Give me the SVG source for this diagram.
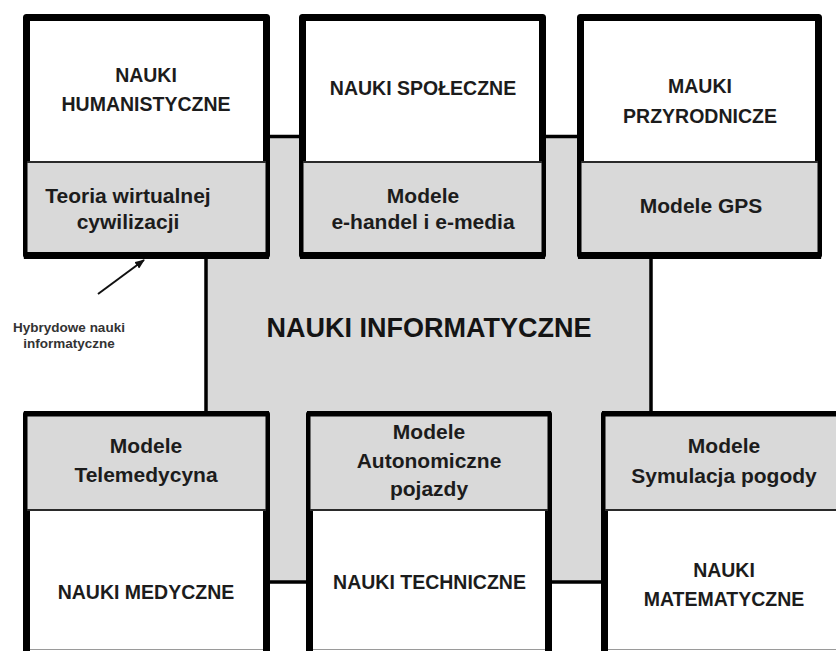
<svg xmlns="http://www.w3.org/2000/svg" width="836" height="651" viewBox="0 0 836 651">
  <defs>
    <style>
      .bg { fill: #ffffff; }
      .panel { fill: #d9d9d9; }
      .white { fill: #ffffff; }
      .frame { fill: none; stroke: #000; stroke-width: 7; stroke-linejoin: round; }
      .frame-thin { fill: none; stroke: #000; stroke-width: 4.5; stroke-linejoin: round; }
      .edge-thick { fill: none; stroke: #000; stroke-width: 7; }
      .edge-top { fill: none; stroke: #000; stroke-width: 5.5; }
      .divider { fill: none; stroke: #2a2a2a; stroke-width: 2; }
      .cut { fill: none; stroke: #9a9a9a; stroke-width: 1; }
      .core { fill: #d9d9d9; stroke: #000; stroke-width: 3.5; }
      text { font-family: "Liberation Sans", Arial, sans-serif; font-weight: bold; fill: #1c1c1c; text-anchor: middle; }
      .title { font-size: 19.5px; }
      .model { font-size: 21px; }
      .core-label { font-size: 27px; fill: #141414; }
      .note { font-size: 13.5px; fill: #333; }
      .pointer { stroke: #111; stroke-width: 2; fill: none; }
    </style>
    <marker id="arrowhead" viewBox="0 0 10 8" refX="9" refY="4" markerWidth="10" markerHeight="8" orient="auto" markerUnits="userSpaceOnUse">
      <path d="M0,0 L10,4 L0,8 z" fill="#111"/>
    </marker>
  </defs>

  <rect class="bg" x="0" y="0" width="836" height="651"/>

  <!-- central field -->
  <g id="nauki-informatyczne">
    <rect class="core" x="206" y="136.5" width="445" height="445.5"/>
    <text class="core-label" x="429" y="337">NAUKI INFORMATYCZNE</text>
  </g>

  <!-- top row -->
  <g id="nauki-humanistyczne">
    <rect class="white" x="23" y="14" width="247" height="148"/>
    <rect class="panel" x="23" y="162" width="247" height="97"/>
    <path class="frame" d="M26.5,162 V17.5 H266.5 V162"/>
    <path class="frame-thin" d="M25.25,162 V255.5 H267.75 V162"/>
    <path class="edge-thick" d="M24,255.5 H269"/>
    <path class="divider" d="M27,162 H266"/>
    <text class="title" x="146" y="82">NAUKI</text>
    <text class="title" x="146" y="111">HUMANISTYCZNE</text>
    <text class="model" x="128" y="203">Teoria wirtualnej</text>
    <text class="model" x="128" y="229">cywilizacji</text>
  </g>

  <g id="nauki-spoleczne">
    <rect class="white" x="299" y="14" width="247" height="148"/>
    <rect class="panel" x="299" y="162" width="247" height="97"/>
    <path class="frame" d="M302.5,162 V17.5 H542.5 V162"/>
    <path class="frame-thin" d="M301.25,162 V255.5 H543.75 V162"/>
    <path class="edge-thick" d="M300,255.5 H545"/>
    <path class="divider" d="M303,162 H542"/>
    <text class="title" x="423" y="95">NAUKI SPOŁECZNE</text>
    <text class="model" x="423" y="203">Modele</text>
    <text class="model" x="423" y="229">e-handel i e-media</text>
  </g>

  <g id="nauki-przyrodnicze">
    <rect class="white" x="577" y="14" width="245" height="148"/>
    <rect class="panel" x="577" y="162" width="245" height="97"/>
    <path class="frame" d="M580.5,162 V17.5 H818.5 V162"/>
    <path class="frame-thin" d="M579.25,162 V255.5 H819.75 V162"/>
    <path class="edge-thick" d="M578,255.5 H821"/>
    <path class="divider" d="M581,162 H818"/>
    <text class="title" x="700" y="93">MAUKI</text>
    <text class="title" x="700" y="123">PRZYRODNICZE</text>
    <text class="model" x="701" y="213">Modele GPS</text>
  </g>

  <!-- bottom row -->
  <g id="nauki-medyczne">
    <rect class="panel" x="23" y="411" width="247" height="99"/>
    <rect class="white" x="23" y="510" width="247" height="141"/>
    <path class="frame-thin" d="M25.25,510 V413.75 H267.75 V510"/>
    <path class="edge-top" d="M24,413.75 H269"/>
    <path class="edge-thick" d="M26.5,510 V651 M266.5,510 V651"/>
    <path class="cut" d="M30,649.5 H263"/>
    <path class="divider" d="M27,510 H266"/>
    <text class="model" x="146" y="453">Modele</text>
    <text class="model" x="146" y="482">Telemedycyna</text>
    <text class="title" x="146" y="599">NAUKI MEDYCZNE</text>
  </g>

  <g id="nauki-techniczne">
    <rect class="panel" x="306" y="411" width="246" height="99"/>
    <rect class="white" x="306" y="510" width="246" height="141"/>
    <path class="frame-thin" d="M308.25,510 V413.75 H549.75 V510"/>
    <path class="edge-top" d="M307,413.75 H551"/>
    <path class="edge-thick" d="M309.5,510 V651 M548.5,510 V651"/>
    <path class="cut" d="M313,649.5 H545"/>
    <path class="divider" d="M310,510 H548"/>
    <text class="model" x="429" y="439">Modele</text>
    <text class="model" x="429" y="468">Autonomiczne</text>
    <text class="model" x="429" y="496">pojazdy</text>
    <text class="title" x="429.5" y="589">NAUKI TECHNICZNE</text>
  </g>

  <g id="nauki-matematyczne">
    <rect class="panel" x="601" y="411" width="246" height="99"/>
    <rect class="white" x="601" y="510" width="246" height="141"/>
    <path class="frame-thin" d="M603.25,510 V413.75 H844.75 V510"/>
    <path class="edge-top" d="M602,413.75 H846"/>
    <path class="edge-thick" d="M604.5,510 V651 M843.5,510 V651"/>
    <path class="cut" d="M608,649.5 H840"/>
    <path class="divider" d="M605,510 H843"/>
    <text class="model" x="724" y="453">Modele</text>
    <text class="model" x="724" y="483">Symulacja pogody</text>
    <text class="title" x="724" y="577">NAUKI</text>
    <text class="title" x="724" y="606">MATEMATYCZNE</text>
  </g>

  <!-- annotation -->
  <g id="hybrydowe-nauki">
    <text class="note" x="69" y="332">Hybrydowe nauki</text>
    <text class="note" x="69" y="348">informatyczne</text>
  </g>

  <g id="connectors">
    <path class="pointer" d="M98,294 L144,260" marker-end="url(#arrowhead)"/>
  </g>
</svg>
